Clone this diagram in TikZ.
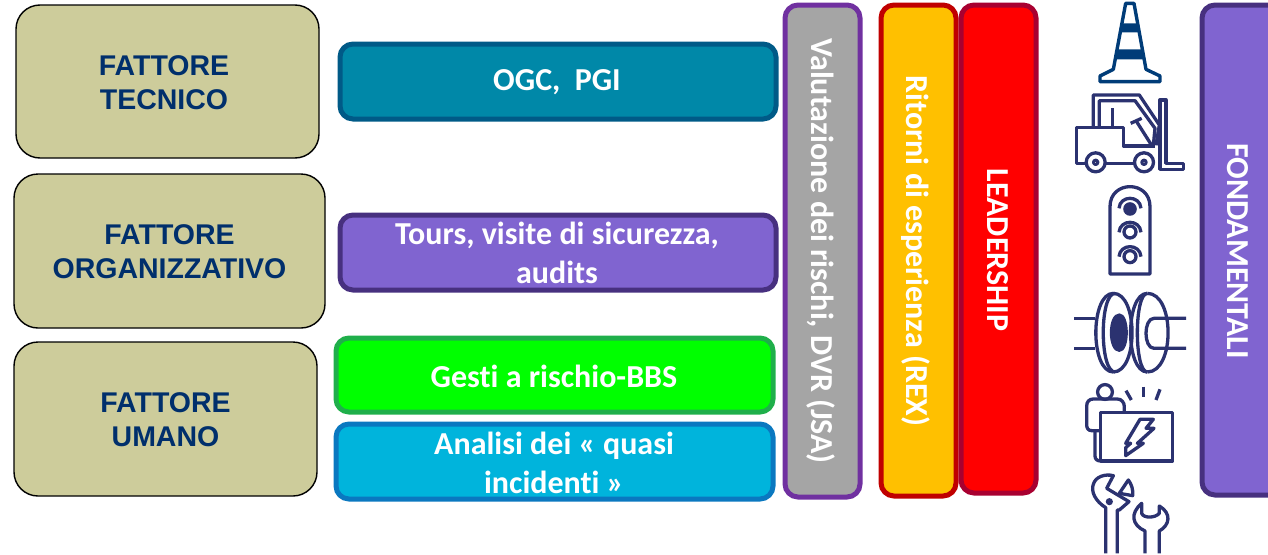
\documentclass[tikz,border=0pt]{standalone}
\usepackage{fontspec}
\setmainfont{Carlito}[Ligatures=NoCommon]
\newfontfamily\arialf{Liberation Sans}
\definecolor{navy}{HTML}{002F6C}
\definecolor{icon}{HTML}{2B3270}
\definecolor{conecol}{HTML}{003C78}
\definecolor{khaki}{HTML}{CDCC9B}
\definecolor{tealf}{HTML}{0088A8}
\definecolor{teald}{HTML}{005A87}
\definecolor{purf}{HTML}{8064D0}
\definecolor{purd}{HTML}{47307F}
\definecolor{grnf}{HTML}{00FF00}
\definecolor{grnd}{HTML}{1FAF4A}
\definecolor{cyaf}{HTML}{00B4DC}
\definecolor{cyad}{HTML}{0A78C0}
\definecolor{gryf}{HTML}{A5A5A5}
\definecolor{gryd}{HTML}{7030A0}
\definecolor{yelf}{HTML}{FFC000}
\definecolor{yeld}{HTML}{C00000}
\definecolor{redf}{HTML}{FF0000}
\definecolor{redd}{HTML}{A80030}
\tikzset{
 factor/.style={draw=black,line width=1.4pt,fill=khaki,rounded corners=24pt},
 factortxt/.style={font=\arialf\bfseries\fontsize{28.5}{34}\selectfont,text=navy,align=center,inner sep=0},
 barbox/.style={line width=5pt,rounded corners=13pt},
 bartxt/.style={font=\bfseries\fontsize{32}{39}\selectfont,text=white,align=center,inner sep=0},
 ic/.style={draw=icon,line width=3.3pt,line join=round}
}
\begin{document}
\begin{tikzpicture}[x=1pt,y=-1pt]
\useasboundingbox (0,0) rectangle (1268,554);
% left factor boxes
\draw[factor] (16,5) rectangle (319,158);
\node[factortxt] (f1) at (164,83) {FATTORE\\TECNICO};
\draw[factor] (14,174) rectangle (325,328);
\node[factortxt] (f2) at (169.5,252) {FATTORE\\ORGANIZZATIVO};
\draw[factor] (14,342) rectangle (317,496);
\node[factortxt] (f3) at (165.5,420) {FATTORE\\UMANO};
% middle bars
\draw[barbox,draw=teald,fill=tealf] (340,44) rectangle (776,119);
\node[bartxt] (b1) at (557,82) {OGC,\ \ PGI};
\draw[barbox,draw=purd,fill=purf] (340,215) rectangle (776,290);
\node[bartxt] (b2) at (557,253) {Tours, visite di sicurezza,\\audits};
\draw[barbox,draw=grnd,fill=grnf] (336,338) rectangle (773,412);
\node[bartxt] (b3) at (554,376) {Gesti a rischio-BBS};
\draw[barbox,draw=cyad,fill=cyaf] (336,424) rectangle (773,499);
\node[bartxt] (b4) at (554,463) {Analisi dei « quasi\\incidenti »};
% vertical bars
\draw[barbox,draw=gryd,fill=gryf] (785,5) rectangle (860,497);
\node[bartxt,rotate=-90] (v1) at (821,251) {Valutazione dei rischi, DVR (JSA)};
\draw[barbox,draw=yeld,fill=yelf] (881,5) rectangle (956,496);
\node[bartxt,rotate=-90] (v2) at (916,251) {Ritorni di esperienza (REX)};
\draw[barbox,draw=redd,fill=redf] (961,5) rectangle (1036,493);
\node[bartxt,rotate=-90] (v3) at (998,250) {LEADERSHIP};
\draw[barbox,draw=purd,fill=purf] (1272,5) -- (1202,5) -- (1202,495) -- (1272,495);
\node[bartxt,rotate=-90] (v4) at (1238,251) {FONDAMENTALI};
% icons, upper column
\begin{scope}[shift={(1060,0)},x=0.3333pt,y=-0.3333pt]
 % cone
 \draw[draw=conecol,line width=3.4pt,line join=round] (197,10) -- (222,10) -- (258,208) -- (300,228) -- (300,245) -- (120,245) -- (120,228) -- (160,208) -- cycle;
 \fill[conecol] (186,70) -- (233,70) -- (238,97) -- (181,97) -- cycle;
 \fill[conecol] (172,148) -- (246,148) -- (252,178) -- (166,178) -- cycle;
 % forklift
 \draw[ic] (100,378) -- (100,285) -- (238,285) -- (298,375) -- (288,436);
 \draw[ic] (118,378) -- (118,302) -- (225,302) -- (285,385) -- (280,436);
 \draw[ic] (158,325) -- (158,380);
 \draw[ic] (212,370) -- (245,355);
 \draw[ic] (228,362) -- (275,436);
 \draw[ic] (78,490) -- (50,490) -- (50,382) -- (190,382) -- (190,438) -- (285,438);
 \draw[ic] (135,490) -- (225,490);
 \draw[ic] (107,487) circle[radius=9.5pt];
 \draw[ic,line width=3pt] (107,487) circle[radius=2.2pt];
 \draw[ic] (252,487) circle[radius=9.5pt];
 \draw[ic,line width=3pt] (252,487) circle[radius=2.2pt];
 \draw[ic] (300,300) -- (318,300) -- (318,490) -- (370,490) -- (370,508) -- (300,508) -- cycle;
 % traffic light
 \draw[ic] (150,822) -- (150,620) .. controls (150,540) and (270,540) .. (270,620) -- (270,822) -- cycle;
 \fill[icon] (210,627) circle[radius=6.8pt];
 \draw[ic] (210,696) circle[radius=6pt];
 \draw[ic] (210,770) circle[radius=6pt];
 \draw[ic] (177,625) .. controls (180,585) and (240,585) .. (243,625);
 \draw[ic] (177,697) .. controls (180,657) and (240,657) .. (243,697);
 \draw[ic] (177,770) .. controls (180,730) and (240,730) .. (243,770);
\end{scope}
% icons, lower column
\begin{scope}[shift={(1060,280)},x=0.3333pt,y=-0.3333pt]
 % coupling
 \draw[ic] (42,115) -- (105,115);
 \draw[ic] (42,205) -- (105,205);
 \draw[ic] (378,115) -- (282,115) .. controls (250,115) and (250,205) .. (282,205) -- (378,205);
 \draw[ic] (160,40) .. controls (90,40) and (90,276) .. (160,276);
 \draw[ic] (160,40) .. controls (235,40) and (235,276) .. (160,276);
 \draw[ic] (165,40) .. controls (118,40) and (118,276) .. (165,276);
 \fill[icon] (178,100) .. controls (140,100) and (140,216) .. (178,216) .. controls (212,216) and (212,100) .. (178,100) -- cycle;
 \draw[ic] (262,40) .. controls (195,40) and (195,276) .. (262,276);
 \draw[ic] (262,40) .. controls (345,40) and (345,276) .. (262,276);
 \draw[ic] (262,40) .. controls (222,40) and (222,276) .. (262,276);
 % person and panel
 \draw[ic] (135,336) circle[radius=7.4pt];
 \draw[ic] (122,452) -- (95,452) .. controls (85,452) and (80,445) .. (80,435) -- (80,378) .. controls (80,365) and (88,357) .. (100,357) -- (172,357) .. controls (185,357) and (193,368) .. (193,380) -- (193,397);
 \draw[ic] (105,452) -- (105,528) .. controls (105,538) and (112,543) .. (122,543);
 \draw[ic] (122,397) rectangle (338,543);
 \draw[ic] (198,332) -- (214,360);
 \draw[ic] (250,320) -- (250,350);
 \draw[ic] (300,328) -- (288,360);
 \draw[ic] (240,418) -- (280,418) -- (258,445) -- (282,445) -- (232,490) -- (250,490) -- (197,527) -- (197,503) -- (212,490) -- (197,490) -- cycle;
 % spanners
 \draw[ic] (137,820) -- (137,683) .. controls (105,663) and (92,633) .. (100,613) .. controls (106,590) and (135,581) .. (160,587) -- (140,625) -- (207,665) -- (178,690) -- (172,690) -- (172,820);
 \draw[ic] (178,640) -- (205,600) .. controls (215,613) and (220,630) .. (218,647) -- cycle;
 \fill[icon] (148,665) circle[radius=3.6pt];
 \draw[ic] (255,820) -- (255,753) .. controls (215,735) and (210,700) .. (245,670) -- (245,700) .. controls (250,715) and (285,715) .. (298,700) -- (298,678) .. controls (335,700) and (330,735) .. (298,753) -- (298,820);
\end{scope}
\end{tikzpicture}
\end{document}
